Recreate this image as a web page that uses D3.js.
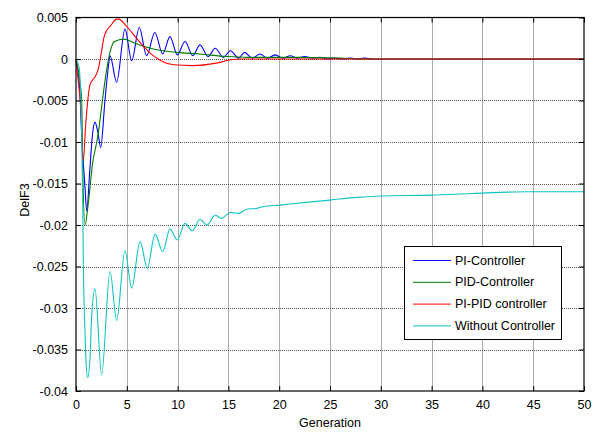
<!DOCTYPE html>
<html>
<head>
<meta charset="utf-8">
<script src="https://cdn.jsdelivr.net/npm/d3@7"></script>
<style>
  body { margin: 0; background: #fff; }
  text { font-family: "Liberation Sans", Arial, sans-serif; }
</style>
</head>
<body>
<div id="chartContainer"></div>
<script>
// Series data: [generation, DelF3]
var piController = [
    [0, 0], [0.39, -0.0042], [0.56, -0.0092], [0.89, -0.0155], [1.05, -0.0183],
    [1.38, -0.013], [1.63, -0.009], [1.87, -0.0076], [2.15, -0.0088], [2.43, -0.01065],
    [2.85, -0.005], [3.18, -0.001], [3.35, 0.0004], [4.0, -0.0028], [4.82, 0.0036],
    [5.48, -0.0002], [6.23, 0.0038], [6.95, 0.0004], [7.76, 0.0032], [8.53, 0.0006],
    [9.25, 0.0027], [9.97, 0.0005], [10.73, 0.0021], [11.5, 0.0004], [12.2, 0.0017],
    [13.0, 0.0003], [13.7, 0.0013], [14.5, 0.0002], [15.2, 0.001], [16.0, 0.0001],
    [16.6, 0.0008], [17.35, 0.0001], [18.1, 0.0006], [18.85, 0.0001], [19.6, 0.0005],
    [20.35, 0.0001], [21.1, 0.0004], [21.8, 0.0001], [22.5, 0.0003], [23.25, 0.0001],
    [24.0, 0.0002], [24.75, 0.0], [25.5, 0.0001], [26.25, 0.0], [27.0, 0.0001],
    [27.7, 0.0], [28.4, 0.0001], [29.2, 0.0], [30, 0], [50, 0]
];

var pidController = [
    [0, 0], [0.3, -0.002], [0.56, -0.005], [0.66, -0.013], [0.89, -0.02],
    [1.2, -0.0175], [1.62, -0.0127], [2.15, -0.0093], [2.6, -0.005], [2.95, -0.0018],
    [3.3, 0.0006], [3.8, 0.0021], [4.7, 0.0024], [6.0, 0.0018], [7.6, 0.0012],
    [9.9, 0.0008], [12.2, 0.0006], [14.8, 0.0003], [17, 0.0002], [22, 0.0002],
    [26, 0.0001], [29, 0], [50, 0]
];

var piPidController = [
    [0, 0], [0.25, -0.003], [0.45, -0.0055], [0.72, -0.0122], [0.95, -0.008],
    [1.2, -0.0045], [1.4, -0.003], [1.9, -0.0021], [2.2, -0.0012], [2.5, 0.0008],
    [2.75, 0.0026], [3.0, 0.0034], [3.4, 0.004], [4.0, 0.0048], [4.2, 0.0048],
    [5.0, 0.0039], [6.3, 0.002], [7.6, 0.0004], [8.5, -0.0003], [9.6, -0.0007],
    [11.5, -0.0008], [13.8, -0.0005], [15.2, -0.0001], [16.1, 0], [50, 0]
];

var withoutController = [
    [0, 0], [0.3, -0.001], [0.55, -0.008], [0.66, -0.017], [0.72, -0.0243],
    [0.89, -0.0331], [0.98, -0.0363], [1.15, -0.0384], [1.38, -0.036], [1.54, -0.0311],
    [1.87, -0.0277], [2.52, -0.038], [3.35, -0.0256], [4.0, -0.0315], [4.82, -0.0231],
    [5.48, -0.0276], [6.3, -0.022], [7.02, -0.0252], [7.78, -0.0211], [8.53, -0.0232],
    [9.25, -0.0205], [9.97, -0.0218], [10.73, -0.0198], [11.45, -0.0207], [12.2, -0.0193],
    [12.9, -0.02], [13.7, -0.0188], [14.3, -0.0192], [15.2, -0.0185], [16.0, -0.0186],
    [16.8, -0.0181], [17.8, -0.018], [18.4, -0.0178], [20.1, -0.0176], [22.4, -0.0173],
    [25, -0.017], [27.3, -0.0167], [30, -0.0165], [35, -0.0164], [39, -0.0162],
    [44.4, -0.016], [50, -0.016]
];

var seriesNames = ["PI-Controller", "PID-Controller", "PI-PID controller", "Without Controller"];
var seriesColors = ["#0000ff", "#007a00", "#ff0000", "#10c4c4"];

var xTicks = [0, 5, 10, 15, 20, 25, 30, 35, 40, 45, 50];
var yTicks = [0.005, 0, -0.005, -0.01, -0.015, -0.02, -0.025, -0.03, -0.035, -0.04];

function init() {
    var w = 597;
    var h = 432;
    var left = 76, right = 584, top = 17.5, bottom = 391;
    var fontSize = "12.5px";

    var svg = d3.select("#chartContainer")
                .append("svg")
                .attr("width", w)
                .attr("height", h);

    var x = d3.scaleLinear().domain([0, 50]).range([left, right]);
    var y = d3.scaleLinear().domain([-0.04, 0.005]).range([bottom, top]);

    // Dotted grid
    svg.append("g")
       .selectAll("line")
       .data(xTicks.slice(1, -1))
       .enter()
       .append("line")
       .attr("x1", d => Math.round(x(d)) + 0.5)
       .attr("x2", d => Math.round(x(d)) + 0.5)
       .attr("y1", top)
       .attr("y2", bottom)
       .attr("stroke", "#555")
       .attr("stroke-dasharray", "1,1");

    svg.append("g")
       .selectAll("line")
       .data(yTicks.slice(1, -1))
       .enter()
       .append("line")
       .attr("x1", left)
       .attr("x2", right)
       .attr("y1", d => Math.round(y(d)) + 0.5)
       .attr("y2", d => Math.round(y(d)) + 0.5)
       .attr("stroke", "#555")
       .attr("stroke-dasharray", "1,1");

    // Curves, drawn in legend order so the last one sits on top
    var line = d3.line()
                 .x(d => x(d[0]))
                 .y(d => y(d[1]))
                 .curve(d3.curveMonotoneX);

    var allSeries = [piController, pidController, piPidController, withoutController];

    svg.append("g")
       .selectAll("path")
       .data(allSeries)
       .enter()
       .append("path")
       .attr("d", line)
       .attr("fill", "none")
       .attr("stroke", (d, i) => seriesColors[i])
       .attr("stroke-width", 1.1);

    // Axes: ticks inward on all four sides
    var tickLen = 5;
    svg.append("g")
       .attr("transform", "translate(0," + bottom + ")")
       .call(d3.axisBottom(x).tickValues(xTicks).tickSizeInner(-tickLen).tickSizeOuter(0).tickPadding(9).tickFormat(d3.format("d")));
    svg.append("g")
       .attr("transform", "translate(0," + top + ")")
       .call(d3.axisTop(x).tickValues(xTicks).tickSizeInner(-tickLen).tickSizeOuter(0).tickFormat(""));
    svg.append("g")
       .attr("transform", "translate(" + left + ",0)")
       .call(d3.axisLeft(y).tickValues(yTicks).tickSizeInner(-tickLen).tickSizeOuter(0).tickPadding(8)
               .tickFormat(d => d === 0 ? "0" : String(+d.toFixed(3))));
    svg.append("g")
       .attr("transform", "translate(" + right + ",0)")
       .call(d3.axisRight(y).tickValues(yTicks).tickSizeInner(-tickLen).tickSizeOuter(0).tickFormat(""));

    svg.selectAll(".domain").remove();
    svg.selectAll(".tick text")
       .attr("font-size", fontSize)
       .attr("font-family", "Liberation Sans, Arial, sans-serif")
       .attr("fill", "#000");
    svg.selectAll(".tick line").attr("stroke", "#000");

    // Axes box
    svg.append("rect")
       .attr("x", left)
       .attr("y", top)
       .attr("width", right - left)
       .attr("height", bottom - top)
       .attr("fill", "none")
       .attr("stroke", "#000")
       .attr("stroke-width", 1.2);

    // Axis labels
    svg.append("text")
       .attr("x", (left + right) / 2)
       .attr("y", 427)
       .attr("text-anchor", "middle")
       .attr("font-size", fontSize)
       .text("Generation");

    svg.append("text")
       .attr("transform", "translate(29,200) rotate(-90)")
       .attr("text-anchor", "middle")
       .attr("font-size", fontSize)
       .text("DelF3");

    // Legend
    var lg = svg.append("g");
    lg.append("rect")
      .attr("x", 404.5)
      .attr("y", 246.5)
      .attr("width", 157)
      .attr("height", 93)
      .attr("fill", "#fff")
      .attr("stroke", "#000");

    var rows = lg.selectAll("g.row")
                 .data(seriesNames)
                 .enter()
                 .append("g")
                 .attr("class", "row")
                 .attr("transform", (d, i) => "translate(0," + (260 + i * 21.8) + ")");
    rows.append("line")
        .attr("x1", 413)
        .attr("x2", 451)
        .attr("y1", 0.5)
        .attr("y2", 0.5)
        .attr("stroke", (d, i) => seriesColors[i]);
    rows.append("text")
        .attr("x", 455)
        .attr("y", 4.5)
        .attr("font-size", fontSize)
        .text(d => d);
}

window.onload = init;
</script>
</body>
</html>
